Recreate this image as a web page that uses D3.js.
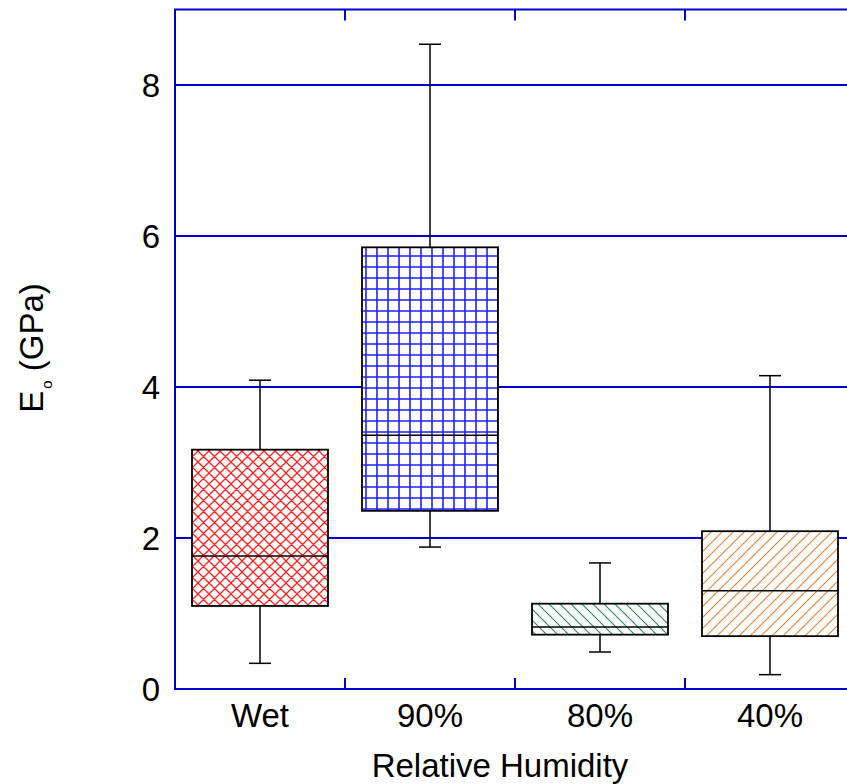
<!DOCTYPE html>
<html>
<head>
<meta charset="utf-8">
<script src="https://cdn.jsdelivr.net/npm/d3@7"></script>
<style>
  html, body { margin: 0; padding: 0; background: #fff; }
  svg { display: block; font-family: Arial, "Liberation Sans", sans-serif; }
</style>
</head>
<body>
<svg id="chart" width="847" height="784"></svg>
<script>
// Stiffness by relative humidity: box = quartiles, line = median, whiskers = min/max
const categories = ["Wet", "90%", "80%", "40%"];
const whiskerLow  = [0.34, 1.88, 0.49, 0.19];
const boxLow      = [1.10, 2.36, 0.72, 0.70];
const medians     = [1.76, 3.36, 0.82, 1.30];
const boxHigh     = [3.17, 5.85, 1.13, 2.09];
const whiskerHigh = [4.09, 8.54, 1.67, 4.15];
const yTicks = [0, 2, 4, 6, 8];
const hatchColors = ["#ff2020", "#2020ff", "#2e8b57", "#f08030"];

const svg = d3.select("#chart");
const plotLeft = 175, plotRight = 855, plotTop = 9.5, plotBottom = 689;
const axisBlue = "#0000cc";
const fontSize = 33;

const x = d3.scaleBand().domain(categories).range([plotLeft, plotRight]).paddingInner(0).paddingOuter(0);
const y = d3.scaleLinear().domain([0, 9]).range([plotBottom, plotTop]);

// hatch patterns
const defs = svg.append("defs");
const P = 11;
function pattern(id, draw) {
  const p = defs.append("pattern").attr("id", id).attr("patternUnits", "userSpaceOnUse")
    .attr("width", P).attr("height", P);
  p.append("rect").attr("width", P).attr("height", P).attr("fill", "#fff");
  draw(p);
}
pattern("hatch0", p => {
  p.append("path").attr("d", `M0,0L${P},${P}M${P},0L0,${P}M-1,${P-1}L1,${P+1}M${P-1},-1L${P+1},1M-1,1L1,-1M${P-1},${P+1}L${P+1},${P-1}`)
    .attr("stroke", hatchColors[0]).attr("stroke-width", 1.3).attr("fill", "none");
});
pattern("hatch1", p => {
  p.append("path").attr("d", `M3,0V${P}M0,3H${P}`)
    .attr("stroke", hatchColors[1]).attr("stroke-width", 1.6).attr("fill", "none");
});
pattern("hatch2", p => {
  p.append("path").attr("d", `M0,0L${P},${P}M-1,${P-1}L1,${P+1}M${P-1},-1L${P+1},1`)
    .attr("stroke", hatchColors[2]).attr("stroke-width", 1.1).attr("fill", "none");
});
pattern("hatch3", p => {
  p.append("path").attr("d", `M0,${P}L${P},0M-1,1L1,-1M${P-1},${P+1}L${P+1},${P-1}`)
    .attr("stroke", hatchColors[3]).attr("stroke-width", 1.1).attr("fill", "none");
});

// gridlines
svg.append("g").selectAll("line").data(yTicks.filter(d => d > 0)).join("line")
  .attr("x1", plotLeft).attr("x2", plotRight)
  .attr("y1", d => y(d)).attr("y2", d => y(d))
  .attr("stroke", axisBlue).attr("stroke-width", 2);

// boxes
const bw = x.bandwidth() * 0.8;
const g = svg.append("g");
categories.forEach((c, i) => {
  const cx = x(c) + x.bandwidth() / 2;
  const cap = 22;
  g.append("line").attr("x1", cx).attr("x2", cx)
    .attr("y1", y(whiskerLow[i])).attr("y2", y(whiskerHigh[i]))
    .attr("stroke", "#000").attr("stroke-width", 1.5);
  [whiskerLow[i], whiskerHigh[i]].forEach(v => {
    g.append("line").attr("x1", cx - cap / 2).attr("x2", cx + cap / 2)
      .attr("y1", y(v)).attr("y2", y(v)).attr("stroke", "#000").attr("stroke-width", 1.5);
  });
  g.append("rect").attr("x", cx - bw / 2).attr("width", bw)
    .attr("y", y(boxHigh[i])).attr("height", y(boxLow[i]) - y(boxHigh[i]))
    .attr("fill", `url(#hatch${i})`).attr("stroke", "#000").attr("stroke-width", 1.8);
  g.append("line").attr("x1", cx - bw / 2).attr("x2", cx + bw / 2)
    .attr("y1", y(medians[i])).attr("y2", y(medians[i]))
    .attr("stroke", "#000").attr("stroke-width", 1.5);
});

// frame and inward ticks
const frame = svg.append("g").attr("stroke", axisBlue).attr("stroke-width", 2).attr("fill", "none");
frame.append("path").attr("d", `M${plotRight},${plotTop}H${plotLeft}V${plotBottom}H${plotRight}`);
const bounds = categories.slice(1).map(c => x(c));
bounds.forEach(bx => {
  frame.append("line").attr("x1", bx).attr("x2", bx).attr("y1", plotTop).attr("y2", plotTop + 11);
  frame.append("line").attr("x1", bx).attr("x2", bx).attr("y1", plotBottom).attr("y2", plotBottom - 11);
});
yTicks.forEach(t => {
  frame.append("line").attr("x1", plotLeft).attr("x2", plotLeft + 11).attr("y1", y(t)).attr("y2", y(t));
});

// tick labels
svg.append("g").selectAll("text").data(yTicks).join("text")
  .attr("x", 160).attr("y", d => y(d)).attr("dy", "0.36em")
  .attr("text-anchor", "end").attr("font-size", fontSize).attr("fill", "#000")
  .text(d => d);
svg.append("g").selectAll("text").data(categories).join("text")
  .attr("x", d => x(d) + x.bandwidth() / 2).attr("y", 727)
  .attr("text-anchor", "middle").attr("font-size", fontSize).attr("fill", "#000")
  .text(d => d);

// axis titles
svg.append("text").attr("x", 500).attr("y", 777).attr("text-anchor", "middle")
  .attr("font-size", fontSize).attr("fill", "#000").text("Relative Humidity");
const yt = svg.append("text").attr("transform", "translate(43,348) rotate(-90)")
  .attr("text-anchor", "middle").attr("font-size", fontSize).attr("fill", "#000");
yt.append("tspan").text("E");
yt.append("tspan").attr("font-size", 15).attr("dy", 9).attr("dx", 2).text("o");
yt.append("tspan").attr("dy", -9).text(" (GPa)");
</script>
</body>
</html>
